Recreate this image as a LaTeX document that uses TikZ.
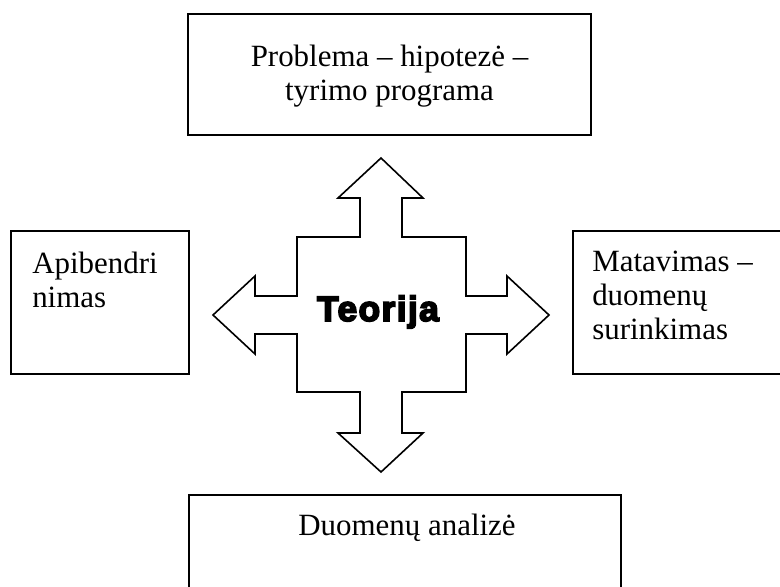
\documentclass[tikz,border=0pt]{standalone}
\usepackage{fontspec}
\setmainfont{Liberation Serif}
\newfontfamily\heavyfont[BoldFeatures={FakeBold=5, LetterSpace=4}]{Liberation Sans}
\tikzset{
  boxline/.style={draw=black, line width=1.2pt},
  boxtext/.style={inner sep=0pt, align=left, font=\fontsize{23.2}{25.2}\selectfont},
  arrowline/.style={draw=black, fill=white, line width=1.2pt, line join=miter},
}
\begin{document}
\begin{tikzpicture}[x=0.75pt, y=-0.75pt]
\useasboundingbox (0,0) rectangle (780,586);
% boxes
\draw[boxline] (188,14) rectangle (591,135);
\draw[boxline] (11,231) rectangle (189,374);
\draw[boxline] (573,231) rectangle (790,374);
\draw[boxline] (189,600) -- (189,495) -- (621,495) -- (621,600);
% texts (base anchor = baseline of the last line)
\node[boxtext, align=center, anchor=base] (top) at (389.5,100) {Problema – hipotezė –\\tyrimo programa};
\node[boxtext, anchor=base west] (left) at (32,307) {Apibendri\\nimas};
\node[boxtext, anchor=base west] (right) at (592,339) {Matavimas –\\duomenų\\surinkimas};
\node[boxtext, anchor=base] (bottom) at (407,535) {Duomenų analizė};
% four-way arrow
\draw[arrowline] (381,158) -- (423,198) -- (402,198) -- (402,237) -- (466,237) -- (466,296)
  -- (507,296) -- (507,276) -- (549,315) -- (507,354) -- (507,334) -- (466,334)
  -- (466,392) -- (402,392) -- (402,433) -- (423,433) -- (381,472) -- (338,433)
  -- (360,433) -- (360,392) -- (297,392) -- (297,334) -- (255,334) -- (255,354)
  -- (213,315) -- (255,276) -- (255,296) -- (297,296) -- (297,237) -- (360,237)
  -- (360,198) -- (338,198) -- cycle;
\node[inner sep=0pt, anchor=base, font=\heavyfont\bfseries\fontsize{26.5}{28}\selectfont] (teorija) at (378,321) {Teorija};
\end{tikzpicture}
\end{document}
